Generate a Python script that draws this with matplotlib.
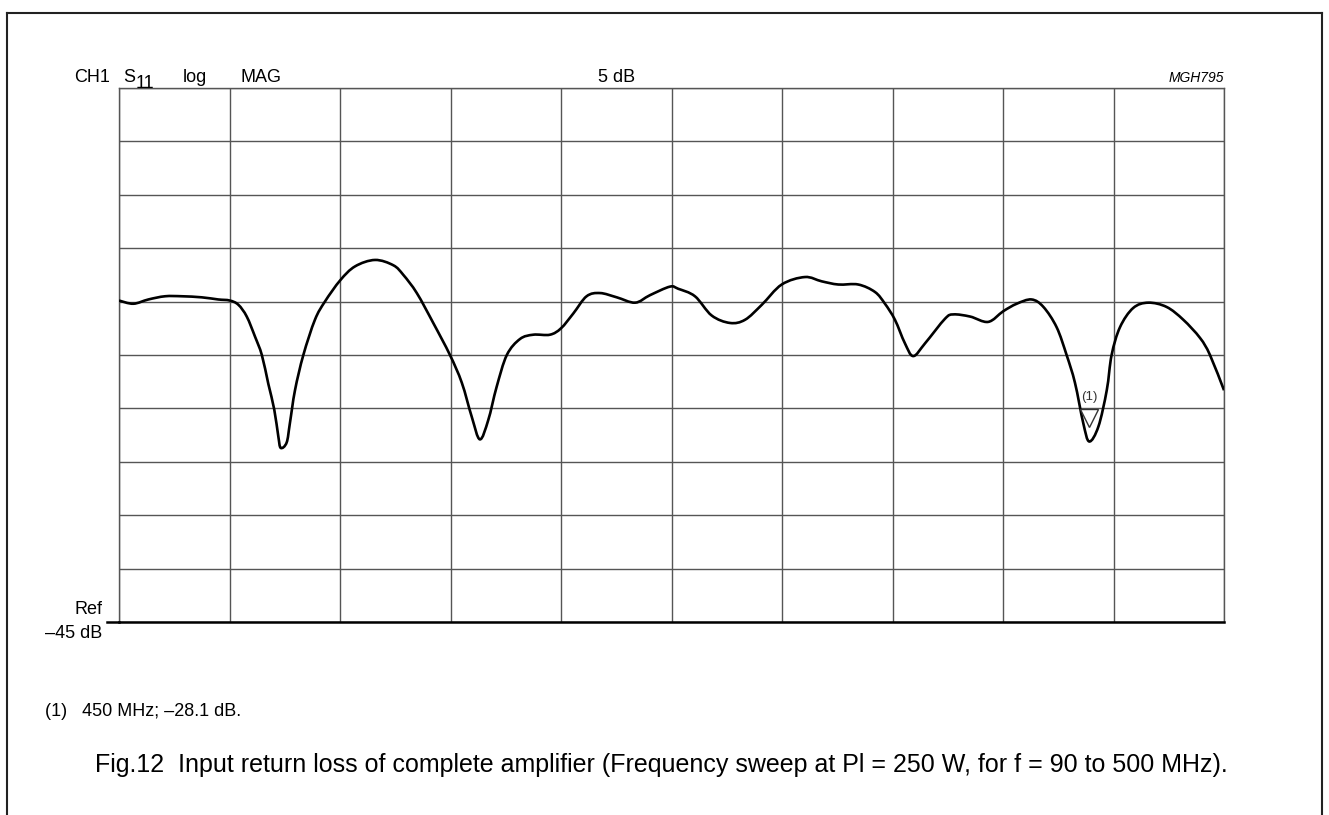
import numpy as np
import matplotlib
matplotlib.use('Agg')
import matplotlib.pyplot as plt
import matplotlib.lines as mlines
from matplotlib.path import Path
from matplotlib.patches import PathPatch
from matplotlib.transforms import offset_copy

plt.rcParams['font.family'] = ['Liberation Sans', 'DejaVu Sans']

# S11 trace, frequency (MHz) vs return loss (dB)
freq_mhz = [90.0, 95.3, 100.9, 107.1, 113.3, 120.7, 126.8, 131.1, 134.3, 137.4,
            140.5, 143.0, 145.4, 147.6, 149.1, 150.0, 152.2, 153.4, 155.3, 158.4,
            162.7, 166.4, 172.1, 177.6, 185.0, 191.8, 195.5, 200.5, 206.6, 212.8,
            217.2, 220.9, 223.9, 227.0, 230.1, 233.9, 238.8, 243.7, 249.9, 254.0,
            258.6, 263.5, 268.5, 274.7, 281.5, 287.0, 294.4, 297.5, 303.7, 309.9,
            316.7, 322.3, 328.5, 335.9, 344.5, 350.7, 356.9, 364.3, 370.5, 374.2,
            377.9, 381.6, 384.7, 389.1, 396.5, 399.6, 405.8, 412.5, 418.1, 423.1,
            428.6, 433.0, 437.9, 441.6, 444.7, 447.8, 450.0, 453.4, 456.5, 458.3,
            461.4, 466.3, 471.9, 478.7, 484.9, 491.1, 494.8, 500.0]
s11_db = [-14.9, -15.2, -14.8, -14.5, -14.5, -14.6, -14.8, -14.9, -15.3, -16.4,
          -18.3, -20.0, -22.7, -25.1, -27.6, -28.7, -28.2, -26.4, -23.3, -20.0,
          -16.7, -15.0, -13.0, -11.7, -11.1, -11.6, -12.5, -14.2, -17.0, -20.0,
          -22.6, -25.8, -27.9, -26.1, -23.0, -20.0, -18.5, -18.1, -18.1, -17.5,
          -16.1, -14.5, -14.2, -14.6, -15.1, -14.4, -13.6, -13.8, -14.5, -16.3,
          -17.0, -16.7, -15.3, -13.4, -12.7, -13.1, -13.4, -13.4, -14.1, -15.2,
          -16.7, -18.9, -20.1, -18.9, -16.6, -16.2, -16.4, -16.9, -15.9, -15.2,
          -14.8, -15.5, -17.4, -20.0, -22.6, -26.4, -28.1, -26.7, -23.3, -20.0,
          -17.4, -15.6, -15.1, -15.5, -16.7, -18.4, -20.0, -23.3]

marker_freq = 450.0
marker_db = -28.1

f_start, f_stop = 90.0, 500.0
ref_db = -45.0
scale_db = 5.0
n_div = 10


def smooth_path(xs, ys):
    """Catmull-Rom style cubic Bezier path through the trace points."""
    pts = np.column_stack([xs, ys])
    verts = [pts[0]]
    codes = [Path.MOVETO]
    n = len(pts)
    for i in range(n - 1):
        p0 = pts[max(i - 1, 0)]
        p1 = pts[i]
        p2 = pts[i + 1]
        p3 = pts[min(i + 2, n - 1)]
        verts += [p1 + (p2 - p0) / 6.0, p2 - (p3 - p1) / 6.0, p2]
        codes += [Path.CURVE4] * 3
    return Path(verts, codes)


W, H = 1329, 815
fig = plt.figure(figsize=(W / 100, H / 100), dpi=100)


def fx(px):
    return px / W


def fy(py):
    return 1 - py / H


ax = fig.add_axes([fx(119), fy(622), 1105 / W, 534 / H])
ax.set_xlim(f_start, f_stop)
ax.set_ylim(ref_db, ref_db + n_div * scale_db)
ax.set_xticks(np.linspace(f_start, f_stop, n_div + 1))
ax.set_yticks(np.linspace(ref_db, ref_db + n_div * scale_db, n_div + 1))
ax.tick_params(length=0, labelbottom=False, labelleft=False)
ax.grid(True, color='#555555', lw=1.0)
for side in ['top', 'left', 'right']:
    ax.spines[side].set_color('#555555')
    ax.spines[side].set_linewidth(1.0)
ax.spines['bottom'].set_color('black')
ax.spines['bottom'].set_linewidth(1.8)

trace = PathPatch(smooth_path(freq_mhz, s11_db), facecolor='none',
                  edgecolor='black', lw=1.9, joinstyle='round', zorder=3)
ax.add_patch(trace)

# marker (1): open triangle above the trace minimum
tri_tr = offset_copy(ax.transData, fig=fig, y=24, units='dots')
ax.plot([marker_freq], [marker_db], marker='v', markersize=12.6, mfc='white',
        mec='#333333', mew=1.0, transform=tri_tr, zorder=4, clip_on=False)
lbl_tr = offset_copy(ax.transData, fig=fig, y=45, units='dots')
ax.text(marker_freq, marker_db, '(1)', transform=lbl_tr, fontsize=9.5,
        ha='center', va='center', color='#333333', zorder=5)

# Ref tick to the left of the baseline
fig.add_artist(mlines.Line2D([fx(107), fx(119)], [fy(622)] * 2,
                             color='black', lw=1.8))

# header
hdr = dict(fontsize=13, va='baseline')
fig.text(fx(74), fy(82), 'CH1', **hdr)
fig.text(fx(123), fy(82), 'S', **hdr)
fig.text(fx(136), fy(88), '11', **hdr)
fig.text(fx(183), fy(82), 'log', **hdr)
fig.text(fx(241), fy(82), 'MAG', **hdr)
fig.text(fx(617), fy(82), '5 dB', ha='center', **hdr)
fig.text(fx(1224), fy(82), 'MGH795', fontsize=10, va='baseline', ha='right',
         style='italic')

fig.text(fx(102), fy(609), 'Ref', fontsize=13, va='center', ha='right')
fig.text(fx(102), fy(634), '\u201345 dB', fontsize=13, va='center', ha='right')

fig.text(fx(45), fy(712), '(1)   450 MHz; \u201328.1 dB.', fontsize=13, va='center')
fig.text(fx(95), fy(765),
         'Fig.12  Input return loss of complete amplifier '
         '(Frequency sweep at Pl = 250 W, for f = 90 to 500 MHz).',
         fontsize=18, va='center')

# page frame
frame_kw = dict(color='#222222', lw=1.5)
fig.add_artist(mlines.Line2D([fx(7), fx(7)], [0, fy(13)], **frame_kw))
fig.add_artist(mlines.Line2D([fx(7), fx(1322)], [fy(13), fy(13)], **frame_kw))
fig.add_artist(mlines.Line2D([fx(1322), fx(1322)], [fy(13), 0], **frame_kw))

fig.savefig('out.png', dpi=100)
